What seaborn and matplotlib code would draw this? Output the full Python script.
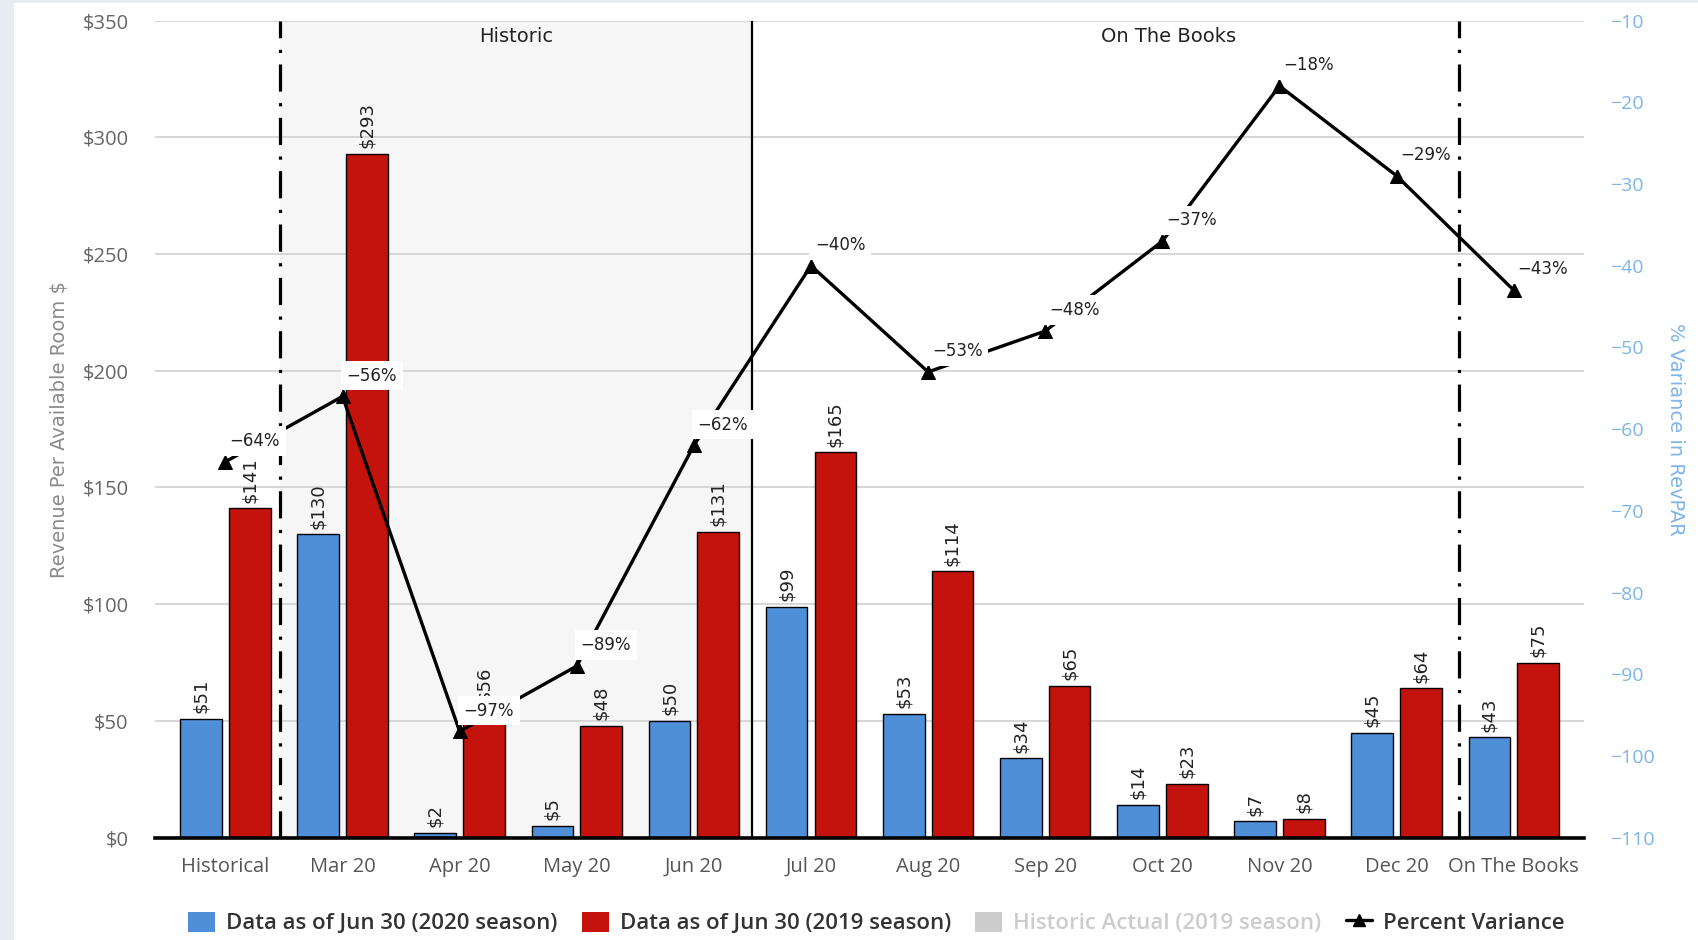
import matplotlib
matplotlib.use("Agg")
import matplotlib.pyplot as plt
import matplotlib.transforms as mtransforms
from matplotlib.patches import Patch, Rectangle
from matplotlib.lines import Line2D
import numpy as np
import pandas as pd
import seaborn as sns

# ---- data -------------------------------------------------------------
categories = ["Historical", "Mar 20", "Apr 20", "May 20", "Jun 20", "Jul 20",
              "Aug 20", "Sep 20", "Oct 20", "Nov 20", "Dec 20", "On The Books"]
revpar_2020 = [51, 130, 2, 5, 50, 99, 53, 34, 14, 7, 45, 43]
revpar_2019 = [141, 293, 56, 48, 131, 165, 114, 65, 23, 8, 64, 75]
pct_variance = [-64, -56, -97, -89, -62, -40, -53, -48, -37, -18, -29, -43]

series_2020 = "Data as of Jun 30 (2020 season)"
series_2019 = "Data as of Jun 30 (2019 season)"
hidden_series = "Historic Actual (2019 season)"
line_series = "Percent Variance"

left_ticks = [0, 50, 100, 150, 200, 250, 300, 350]
right_ticks = [-110, -100, -90, -80, -70, -60, -50, -40, -30, -20, -10]

section_left = "Historic"
section_right = "On The Books"

# ---- styling ----------------------------------------------------------
BLUE = "#4f8fd7"
RED = "#c4130d"
AXIS_BLUE = "#7cb5ec"
GRID = "#d3d3d3"
SHADE = "#f6f6f6"

sns.set_theme(style="white")
plt.rcParams["font.family"] = ["Open Sans", "DejaVu Sans"]

df = pd.DataFrame({
    "period": categories * 2,
    "revpar": revpar_2020 + revpar_2019,
    "series": [series_2020] * len(categories) + [series_2019] * len(categories),
})

W, H = 1699, 940
fig = plt.figure(figsize=(W / 100, H / 100), dpi=100)
fig.patch.set_facecolor("#e7ecf2")
fig.add_artist(Rectangle((14 / W, 0), 1, 1 - 3 / H, transform=fig.transFigure,
                         facecolor="white", edgecolor="none", zorder=-10))

ax1 = fig.add_axes([155 / W, 1 - 837.6 / H, (1584 - 155) / W, (837.6 - 20.6) / H])
ax1.set_facecolor("white")

sns.barplot(data=df, x="period", y="revpar", hue="series",
            palette=[BLUE, RED], saturation=1, width=0.832, gap=0.144,
            edgecolor="black", linewidth=1.0, ax=ax1, legend=False, zorder=2)

for cont, vals in zip(ax1.containers, [revpar_2020, revpar_2019]):
    ax1.bar_label(cont, labels=[f"${v}" for v in vals], rotation=90, padding=4,
                  fontsize=13, color="#222222", family="DejaVu Sans")

xmin, xmax = -0.601, 11.60
ax1.set_xlim(xmin, xmax)
ax1.set_ylim(left_ticks[0], left_ticks[-1])
ax1.set_yticks(left_ticks)
ax1.set_yticklabels([f"${t}" for t in left_ticks])
ax1.set_axisbelow(True)
ax1.yaxis.grid(True, color=GRID, linewidth=1.3)
ax1.xaxis.grid(False)

# section shading and dividers
hist_start, hist_end, otb_start = 0.47, 4.5, 10.53
ax1.axvspan(hist_start, hist_end, color=SHADE, zorder=0.2, linewidth=0)
dashdot = (0, (8.5, 3.6, 1.0, 3.6))
for xv in (hist_start, otb_start):
    ax1.axvline(xv, color="black", linewidth=2.3, linestyle=dashdot, zorder=3,
                dash_capstyle="butt")
ax1.axvline(hist_end, color="black", linewidth=1.6, zorder=3)

trans = mtransforms.blended_transform_factory(ax1.transData, ax1.transAxes)
ax1.text((hist_start + hist_end) / 2, 0.98, section_left, transform=trans,
         ha="center", va="center", fontsize=14, color="#222222", family="DejaVu Sans")
ax1.text((hist_end + xmax) / 2, 0.98, section_right, transform=trans,
         ha="center", va="center", fontsize=14, color="#222222", family="DejaVu Sans")

for s in ("top", "left", "right"):
    ax1.spines[s].set_visible(False)
ax1.spines["bottom"].set_color("black")
ax1.spines["bottom"].set_linewidth(2.6)
ax1.spines["bottom"].set_zorder(4)

ax1.tick_params(axis="x", length=0, pad=14, labelsize=14.5, labelcolor="#555555")
ax1.tick_params(axis="y", length=0, pad=19, labelsize=14.5, labelcolor="#666666")
ax1.set_xlabel("")
ax1.set_ylabel("Revenue Per Available Room $", fontsize=14, color="#8a8a8a",
               family="DejaVu Sans")
ax1.yaxis.set_label_coords(-0.060, 0.5)

# ---- percent variance line -------------------------------------------
ax2 = ax1.twinx()
positions = np.arange(len(categories))
sns.lineplot(x=positions, y=pct_variance, ax=ax2, color="black", linewidth=2.4,
             marker="^", markersize=10, markeredgecolor="black", zorder=5)
for xi, v in zip(positions, pct_variance):
    ax2.annotate(f"\u2212{abs(v)}%", (xi, v), xytext=(21, 15), textcoords="offset points",
                 ha="center", va="center", fontsize=12, color="#222222",
                 family="DejaVu Sans", zorder=6,
                 bbox=dict(boxstyle="square,pad=0.35", fc="white", ec="none"))

ax2.set_xlim(xmin, xmax)
ax2.set_ylim(right_ticks[0], right_ticks[-1])
ax2.set_yticks(right_ticks)
ax2.grid(False)
for s in ax2.spines.values():
    s.set_visible(False)
ax2.tick_params(axis="y", length=0, pad=19, labelsize=14, labelcolor=AXIS_BLUE)
ax2.set_ylabel("% Variance in RevPAR", rotation=270, fontsize=14, color=AXIS_BLUE,
               family="DejaVu Sans")
ax2.yaxis.set_label_coords(1.071, 0.5)

# ---- legend ----------------------------------------------------------
handles = [
    Patch(facecolor=BLUE, edgecolor="none"),
    Patch(facecolor=RED, edgecolor="none"),
    Patch(facecolor="#cccccc", edgecolor="none"),
    Line2D([0], [0], color="black", linewidth=2.4, marker="^", markersize=9),
]
labels = [series_2020, series_2019, hidden_series, line_series]
leg = fig.legend(handles, labels, loc="center", bbox_to_anchor=(0.516, 1 - 923 / H),
                 ncol=4, frameon=False, handlelength=1.2, handleheight=1.0,
                 handletextpad=0.5, columnspacing=1.1,
                 prop={"family": "Open Sans", "weight": "semibold", "size": 16})
for txt, col in zip(leg.get_texts(), ["#333333", "#333333", "#cccccc", "#333333"]):
    txt.set_color(col)

fig.savefig("out.png", dpi=100, facecolor=fig.get_facecolor())
